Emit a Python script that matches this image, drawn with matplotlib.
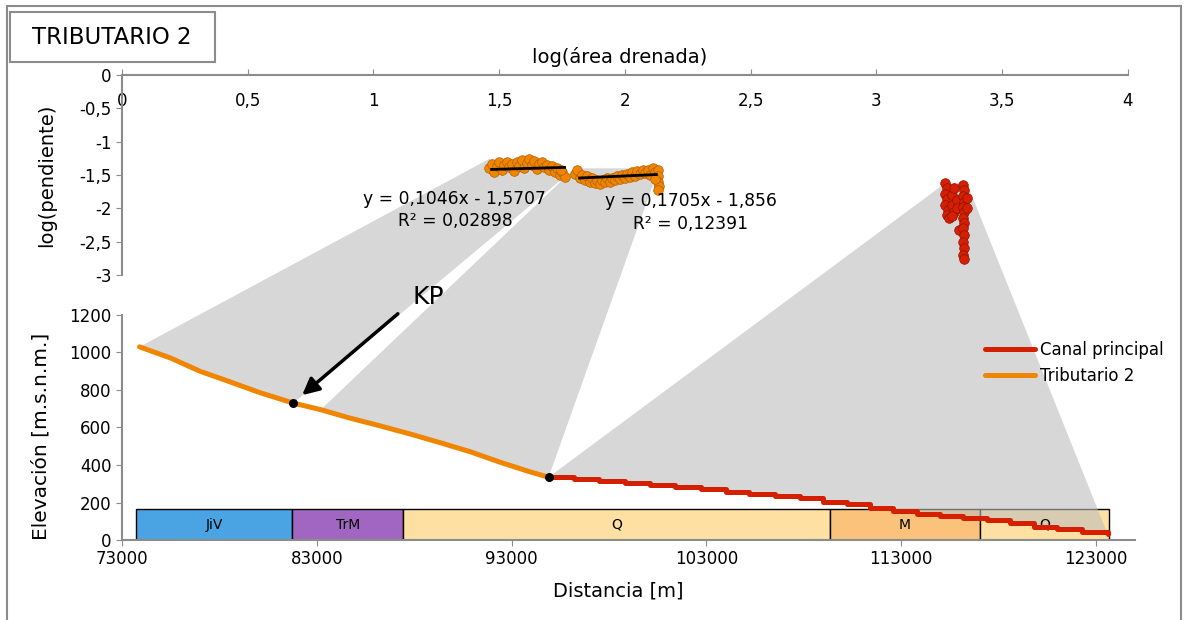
import numpy as np
import matplotlib
matplotlib.use('Agg')
import matplotlib.pyplot as plt
from matplotlib.patches import Polygon, Rectangle

plt.rcParams['font.family'] = ['DejaVu Sans']

# --- data ---
# log(area) vs log(slope) clusters
cl1_x = [1.46, 1.47, 1.48, 1.49, 1.50, 1.51, 1.52, 1.53, 1.54, 1.55, 1.56, 1.57, 1.58, 1.59, 1.60, 1.61,
         1.62, 1.63, 1.64, 1.65, 1.66, 1.67, 1.68, 1.69, 1.70, 1.71, 1.72, 1.73, 1.74, 1.75, 1.76, 1.745]
cl1_y = [-1.40, -1.33, -1.45, -1.36, -1.31, -1.42, -1.35, -1.30, -1.38, -1.33, -1.44, -1.30, -1.36, -1.28, -1.40, -1.32,
         -1.26, -1.35, -1.29, -1.41, -1.33, -1.30, -1.38, -1.35, -1.42, -1.37, -1.45, -1.40, -1.50, -1.46, -1.53, -1.42]

cl2_x = [1.80, 1.81, 1.82, 1.83, 1.84, 1.85, 1.86, 1.87, 1.88, 1.89, 1.90, 1.91, 1.92, 1.93, 1.94, 1.95, 1.96,
         1.97, 1.98, 1.99, 2.00, 2.01, 2.02, 2.03, 2.04, 2.05, 2.06, 2.07, 2.08, 2.09, 2.10, 2.11, 2.12, 2.13,
         2.13, 2.13, 2.135, 2.13, 2.12]
cl2_y = [-1.48, -1.42, -1.55, -1.50, -1.58, -1.52, -1.60, -1.55, -1.62, -1.57, -1.63, -1.58, -1.61, -1.55, -1.60, -1.54, -1.58,
         -1.52, -1.56, -1.50, -1.55, -1.48, -1.53, -1.46, -1.51, -1.44, -1.49, -1.42, -1.47, -1.43, -1.50, -1.40, -1.45, -1.42,
         -1.52, -1.60, -1.67, -1.72, -1.56]

red_x = [3.275, 3.28, 3.275, 3.28, 3.275, 3.285, 3.28, 3.29, 3.30, 3.30, 3.31, 3.30, 3.32, 3.32, 3.31, 3.33,
         3.345, 3.35, 3.345, 3.35, 3.345, 3.35, 3.345, 3.35, 3.345, 3.35, 3.345, 3.35, 3.345, 3.35, 3.36, 3.36]
red_y = [-1.62, -1.70, -1.78, -1.86, -1.95, -2.02, -2.10, -2.15, -1.80, -1.95, -2.05, -2.12, -1.88, -2.00, -1.70, -2.32,
         -1.65, -1.72, -1.82, -1.90, -1.98, -2.06, -2.14, -2.22, -2.30, -2.40, -2.50, -2.60, -2.70, -2.76, -1.85, -2.00]

# trend lines (from the chart labels)
fit1 = (0.1046, -1.5707)
fit2 = (0.1705, -1.856)
fit1_text = ['y = 0,1046x - 1,5707', 'R² = 0,02898']
fit2_text = ['y = 0,1705x - 1,856', 'R² = 0,12391']

# longitudinal profiles
trib_dist = [73900, 75500, 77000, 78500, 80100, 81800, 83200, 84700, 86200, 87800, 89300, 90900, 92400, 93900, 94900]
trib_elev = [1030, 970, 900, 845, 785, 730, 695, 650, 610, 565, 520, 470, 415, 365, 335]

main_dist = [94900, 96200, 97500, 98800, 100100, 101400, 102700, 104000, 105200, 106500, 107800, 109000,
             110200, 111400, 112600, 113800, 115000, 116200, 117400, 118600, 119800, 121000, 122300, 123600]
main_elev = [335, 325, 315, 305, 293, 283, 272, 258, 245, 235, 224, 205,
             190, 171, 155, 140, 128, 115, 105, 90, 72, 58, 45, 32]

kp_dist, kp_elev = 81800, 730

# geology units
geo_names = ['JiV', 'TrM', 'Q', 'M', 'Q']
geo_start = [73700, 81750, 87450, 109350, 117050]
geo_end = [81750, 87450, 109350, 117050, 123650]
geo_colors = ['#4aa3e2', '#a066c1', '#ffe0a3', '#fbc27c', '#ffe0a3']
geo_top = 165

top_xticks = [0, 0.5, 1, 1.5, 2, 2.5, 3, 3.5, 4]
top_xlabels = ['0', '0,5', '1', '1,5', '2', '2,5', '3', '3,5', '4']
top_yticks = [0, -0.5, -1, -1.5, -2, -2.5, -3]
top_ylabels = ['0', '-0,5', '-1', '-1,5', '-2', '-2,5', '-3']
bot_xticks = [73000, 83000, 93000, 103000, 113000, 123000]
bot_yticks = [0, 200, 400, 600, 800, 1000, 1200]

ORANGE = '#ef8500'
RED = '#d42000'
GRID = '#8c8c8c'

fig = plt.figure(figsize=(11.86, 6.2), dpi=100)
ax_bot = fig.add_axes([0.1029, 0.129, 0.854, 0.363])
ax_top = fig.add_axes([0.1029, 0.5565, 0.848, 0.3226])
ax_bot.set_zorder(1)
ax_top.set_zorder(2)
for ax in (ax_bot, ax_top):
    ax.set_facecolor('none')

# outer frame and title box
fig.patches.append(Rectangle((7 / 1186, -0.02), 1174 / 1186, 1.0 - 6 / 620 + 0.02,
                             transform=fig.transFigure, fill=False, edgecolor=GRID, lw=1.5))
fig.patches.append(Rectangle((10 / 1186, 1 - 62 / 620), 205 / 1186, 50 / 620,
                             transform=fig.transFigure, facecolor='white', edgecolor=GRID, lw=1.5))
fig.text(112 / 1186, 1 - 38 / 620, 'TRIBUTARIO 2', ha='center', va='center', fontsize=16.5)

# ---- top axes: log(slope) vs log(area)
ax_top.set_xlim(0, 4)
ax_top.set_ylim(-3, 0)
ax_top.scatter(cl1_x, cl1_y, s=48, color=ORANGE, edgecolor='#b06000', lw=0.5, zorder=3)
ax_top.scatter(cl2_x, cl2_y, s=48, color=ORANGE, edgecolor='#b06000', lw=0.5, zorder=3)
ax_top.scatter(red_x, red_y, s=48, color=RED, edgecolor='#901000', lw=0.5, zorder=3)
f1x = np.array([min(cl1_x) + 0.01, max(cl1_x)])
f2x = np.array([min(cl2_x) + 0.02, max(cl2_x) - 0.01])
ax_top.plot(f1x, fit1[0] * f1x + fit1[1], color='black', lw=2, zorder=4)
ax_top.plot(f2x, fit2[0] * f2x + fit2[1], color='black', lw=2, zorder=4)
ax_top.text(1.324, -1.86, fit1_text[0], ha='center', va='center', fontsize=12.3)
ax_top.text(1.324, -2.19, fit1_text[1], ha='center', va='center', fontsize=12.3)
ax_top.text(2.262, -1.89, fit2_text[0], ha='center', va='center', fontsize=12.3)
ax_top.text(2.262, -2.235, fit2_text[1], ha='center', va='center', fontsize=12.3)

ax_top.xaxis.tick_top()
ax_top.set_xticks(top_xticks)
ax_top.set_xticklabels(top_xlabels)
ax_top.set_yticks(top_yticks)
ax_top.set_yticklabels(top_ylabels)
ax_top.tick_params(axis='x', direction='out', length=4, pad=-29, color=GRID, labelsize=12)
ax_top.tick_params(axis='y', direction='out', length=4, color=GRID, labelsize=12)
for s in ('bottom', 'right'):
    ax_top.spines[s].set_visible(False)
for s in ('top', 'left'):
    ax_top.spines[s].set_color(GRID)
    ax_top.spines[s].set_linewidth(1.5)
ax_top.text(0.495, 1.09, 'log(área drenada)', transform=ax_top.transAxes,
            ha='center', va='center', fontsize=14)
ax_top.set_ylabel('log(pendiente)', fontsize=14)
ax_top.yaxis.set_label_coords(-0.066, 0.5)

# ---- bottom axes: profiles
ax_bot.set_xlim(73000, 125000)
ax_bot.set_ylim(0, 1200)
ax_bot.bar(geo_start, geo_top, width=np.array(geo_end) - np.array(geo_start), align='edge',
           color=geo_colors, edgecolor='black', lw=1, zorder=1)
for name, a, b in zip(geo_names, geo_start, geo_end):
    ax_bot.text((a + b) / 2, geo_top / 2, name, ha='center', va='center', fontsize=10, zorder=2)

ax_bot.plot(main_dist, main_elev, color=RED, lw=3.6, drawstyle='steps-post',
            solid_capstyle='round', zorder=4, label='Canal principal')
ax_bot.plot(trib_dist, trib_elev, color=ORANGE, lw=3.6, solid_capstyle='round',
            zorder=4, label='Tributario 2')
ax_bot.scatter([kp_dist, trib_dist[-1]], [kp_elev, trib_elev[-1]], s=30, color='black', zorder=5)

ax_bot.annotate('', xy=(82140, 763), xytext=(87270, 1216), annotation_clip=False,
                arrowprops=dict(arrowstyle='-|>', color='black', lw=2.5, mutation_scale=25), zorder=6)
ax_bot.text(88710, 1296, 'KP', ha='center', va='center', fontsize=18, zorder=6)

ax_bot.set_xticks(bot_xticks)
ax_bot.set_xticklabels([str(v) for v in bot_xticks])
ax_bot.set_yticks(bot_yticks)
ax_bot.tick_params(direction='out', length=4, color=GRID, labelsize=12)
for s in ('top', 'right'):
    ax_bot.spines[s].set_visible(False)
for s in ('bottom', 'left'):
    ax_bot.spines[s].set_color(GRID)
    ax_bot.spines[s].set_linewidth(1.5)
ax_bot.set_xlabel('Distancia [m]', fontsize=14)
ax_bot.xaxis.set_label_coords(0.49, -0.185)
ax_bot.set_ylabel('Elevación [m.s.n.m.]', fontsize=14.5)
ax_bot.yaxis.set_label_coords(-0.071, 0.462)
ax_bot.legend(loc='upper left', bbox_to_anchor=(0.852, 0.885), frameon=False, fontsize=12,
              handlelength=3.0, handletextpad=0.3, labelspacing=0.5, borderpad=0, borderaxespad=0)

# ---- gray bands linking the slope clusters to the profile reaches
def to_fig(ax, xs, ys):
    pts = ax.transData.transform(np.column_stack([xs, ys]))
    return fig.transFigure.inverted().transform(pts)

kp_i = trib_dist.index(kp_dist)
bands = [
    # cluster x, cluster y, profile x, profile y, use lowest point for right anchor
    (cl1_x, cl1_y, trib_dist[:kp_i + 1], trib_elev[:kp_i + 1], True),
    (cl2_x, cl2_y, trib_dist[kp_i + 1:], trib_elev[kp_i + 1:], False),
    (red_x, red_y, main_dist, main_elev, False),
]
for cx, cy, px, py, low_right in bands:
    i_left = int(np.argmin(cx))
    i_right = int(np.argmax(cx))
    top = to_fig(ax_top, [cx[i_left], cx[i_right]], [max(cy), min(cy) if low_right else max(cy)])
    bottom = to_fig(ax_bot, px[::-1], py[::-1])
    verts = np.vstack([top, bottom])
    ax_bot.add_patch(Polygon(verts, closed=True, transform=fig.transFigure, clip_on=False,
                             facecolor='#bdbdbd', alpha=0.6, edgecolor='none', zorder=1.5))

fig.savefig('out.png', dpi=100)
